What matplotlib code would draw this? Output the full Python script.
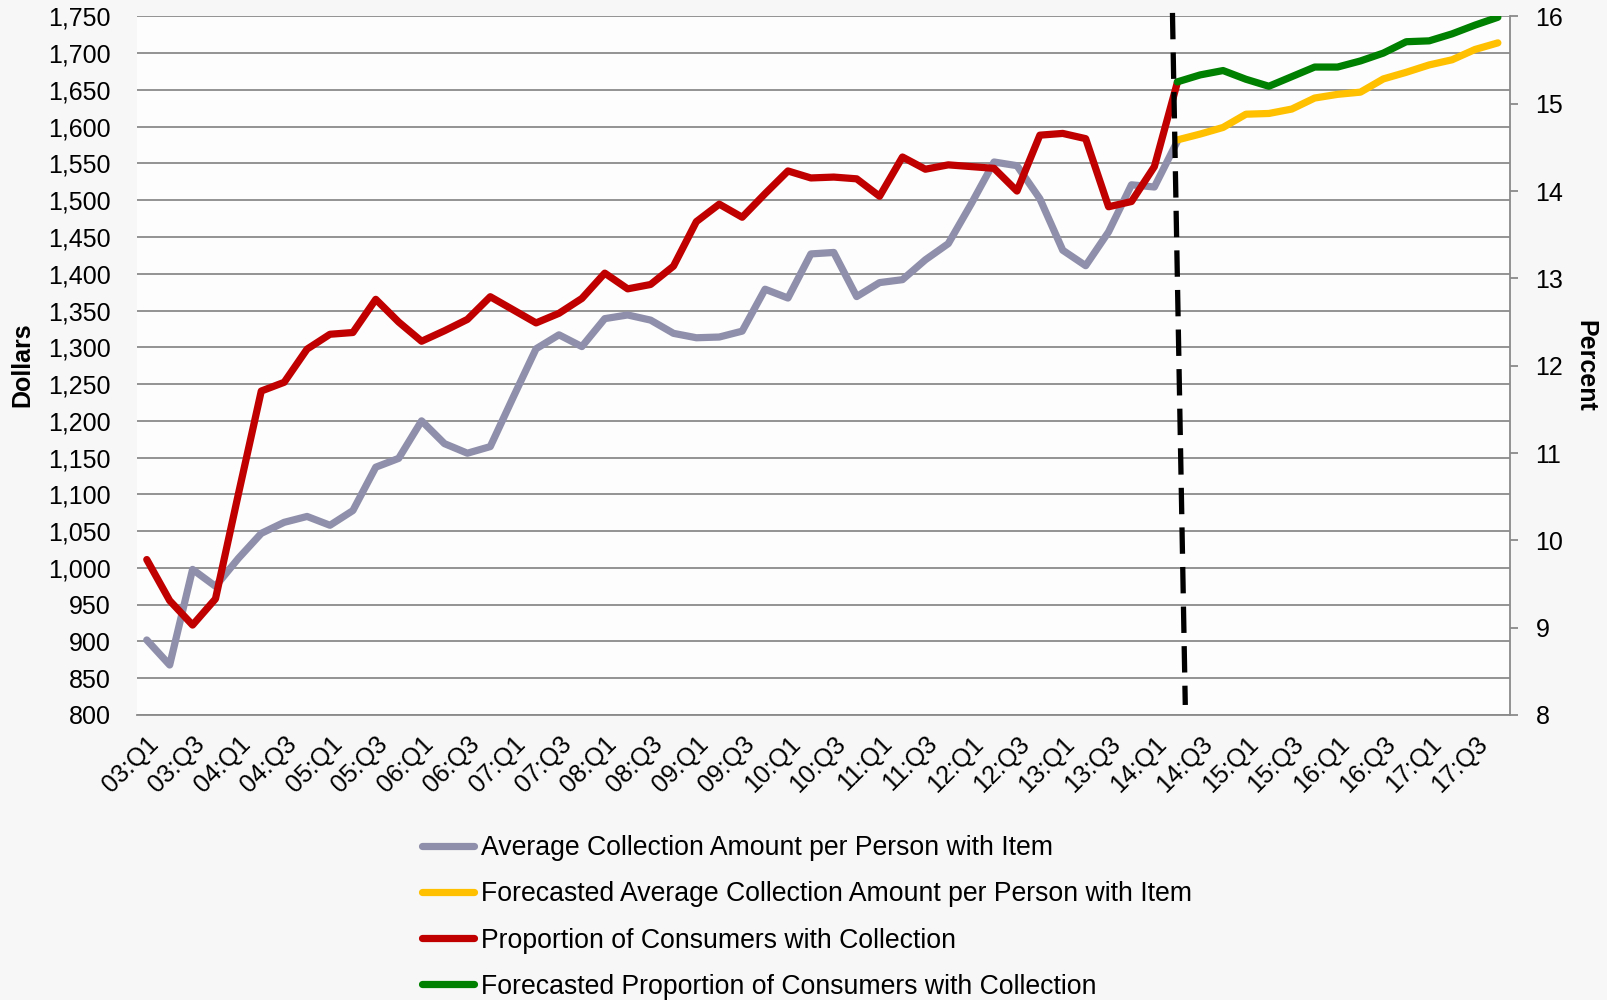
import matplotlib
matplotlib.use("Agg")
import matplotlib.pyplot as plt
from matplotlib.ticker import FuncFormatter
from matplotlib.lines import Line2D

plt.rcParams['font.family'] = ['Liberation Sans', 'DejaVu Sans']

# ---------------- data ----------------
years = list(range(2003, 2018))
quarters = [f"{y % 100:02d}:Q{q}" for y in years for q in (1, 2, 3, 4)]   # 03:Q1 .. 17:Q4
tick_labels = quarters[::2]

# Average collection amount per person with item (dollars), 03:Q1 .. 14:Q2
avg_amount = [902, 868, 998, 975, 1013, 1047, 1062, 1070, 1058, 1078,
              1137, 1149, 1200, 1169, 1156, 1165, 1232, 1298, 1317, 1301,
              1339, 1344, 1337, 1319, 1313, 1314, 1322, 1379, 1367, 1427,
              1429, 1369, 1388, 1392, 1419, 1441, 1495, 1552, 1547, 1502,
              1432, 1411, 1457, 1521, 1518, 1580]

# Forecasted average collection amount (dollars), 14:Q2 .. 17:Q4
fc_amount = [1582, 1590, 1599, 1617, 1618, 1624, 1639, 1644, 1647, 1665,
             1674, 1684, 1691, 1705, 1714]

# Proportion of consumers with collection (percent), 03:Q1 .. 14:Q2
proportion = [9.78, 9.31, 9.03, 9.33, 10.53, 11.71, 11.81, 12.19, 12.36, 12.38,
              12.76, 12.50, 12.28, 12.40, 12.53, 12.79, 12.64, 12.49, 12.60, 12.77,
              13.06, 12.88, 12.93, 13.14, 13.65, 13.85, 13.70, 13.97, 14.23, 14.15,
              14.16, 14.14, 13.94, 14.39, 14.25, 14.30, 14.28, 14.26, 14.00, 14.64,
              14.66, 14.60, 13.82, 13.88, 14.28, 15.24]

# Forecasted proportion (percent), 14:Q2 .. 17:Q4
fc_proportion = [15.25, 15.33, 15.38, 15.28, 15.20, 15.31, 15.42, 15.42, 15.49, 15.58,
                 15.71, 15.72, 15.80, 15.90, 15.99]

series_labels = ["Average Collection Amount per Person with Item",
                 "Forecasted Average Collection Amount per Person with Item",
                 "Proportion of Consumers with Collection",
                 "Forecasted Proportion of Consumers with Collection"]
colors = ["#8F8FAB", "#FFC000", "#C00000", "#008000"]

# ---------------- figure ----------------
W, H = 1607, 1000
fig = plt.figure(figsize=(W / 100, H / 100), dpi=100, facecolor="#f7f7f7")
ax = fig.add_axes([136.7 / W, 1 - 715 / H, (1510 - 136.7) / W, (715 - 16.4) / H])
ax.set_facecolor("#fdfdfd")
ax2 = ax.twinx()

x_hist = list(range(len(avg_amount)))
start_fc = len(avg_amount) - 1
x_fc = list(range(start_fc, start_fc + len(fc_amount)))

lw = 5.2
kw = dict(lw=lw, solid_capstyle="round", solid_joinstyle="round")
ax.plot(x_hist, avg_amount, color=colors[0], zorder=3, **kw)
ax.plot(x_fc, fc_amount, color=colors[1], zorder=3, **kw)
ax2.plot(x_hist, proportion, color=colors[2], zorder=3, **kw)
ax2.plot(x_fc, fc_proportion, color=colors[3], zorder=3, **kw)

ax.set_xlim(-0.44, 59.53)
ax2.set_xlim(-0.44, 59.53)
ax.set_ylim(800, 1750)
ax2.set_ylim(8, 16)

# forecast divider
ax2.plot([44.79, 45.35], [16.04, 8.115], color="black", lw=3.8,
         dashes=(5.0, 2.5), zorder=5, clip_on=False)

# grid & axes styling
gridc = "#8a8a8a"
ax.set_yticks(list(range(800, 1751, 50)))
ax.yaxis.set_major_formatter(FuncFormatter(lambda v, p: f"{int(v):,}"))
ax.yaxis.grid(True, color=gridc, lw=1.3)
ax.set_axisbelow(True)
ax.tick_params(axis="y", length=0, pad=18.5, labelsize=18, colors="black")
ax.set_xticks(list(range(0, 60, 2)))
ax.set_xticklabels(tick_labels, rotation=45, ha="right", va="top",
                   rotation_mode="anchor", fontsize=18)
ax.tick_params(axis="x", length=0, pad=12)

for sp in ["top", "left", "right"]:
    ax.spines[sp].set_visible(False)
ax.spines["bottom"].set_color(gridc)
ax.spines["bottom"].set_linewidth(1.3)
for sp in ["top", "left", "bottom"]:
    ax2.spines[sp].set_visible(False)
ax2.spines["right"].set_color(gridc)
ax2.spines["right"].set_linewidth(1.3)
ax2.set_yticks(list(range(8, 17)))
ax2.tick_params(axis="y", length=5.8, width=1.3, color=gridc, pad=12.5,
                labelsize=18, direction="out")

fig.text(22.7 / W, 1 - 365 / H, "Dollars", rotation=90, ha="center", va="center",
         fontsize=18, fontweight="bold")
fig.text(1585.5 / W, 1 - 365.5 / H, "Percent", rotation=270, ha="center", va="center",
         fontsize=18, fontweight="bold")

handles = [Line2D([], [], color=c, lw=lw, solid_capstyle="round") for c in colors]
fig.legend(handles, series_labels, loc="upper left",
           bbox_to_anchor=(422.3 / W, 1 - 835 / H), bbox_transform=fig.transFigure,
           frameon=False, fontsize=19.2, handlelength=1.95, handletextpad=0.24,
           labelspacing=0.76, borderpad=0, borderaxespad=0)

fig.savefig("out.png", dpi=100, facecolor=fig.get_facecolor())
